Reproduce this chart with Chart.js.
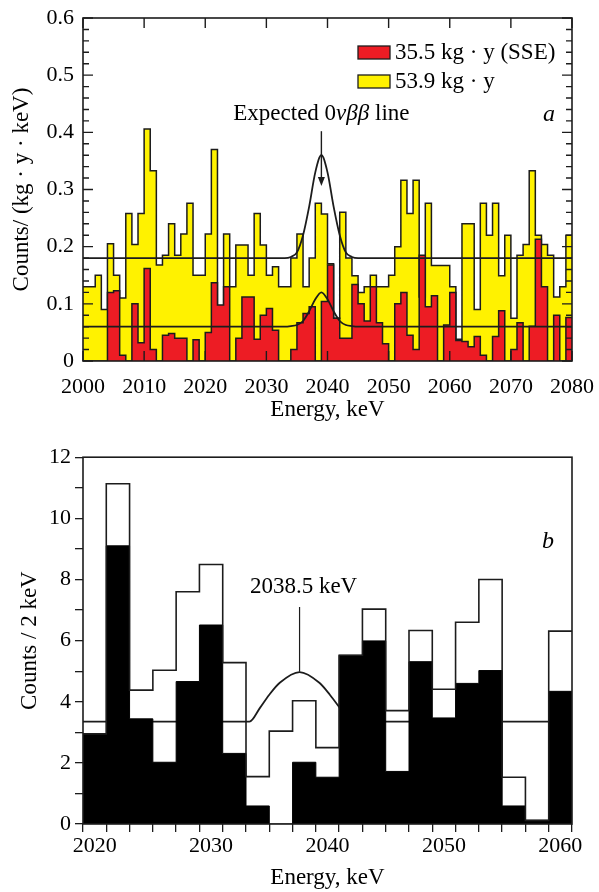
<!DOCTYPE html>
<html lang="en">
<head>
<meta charset="UTF-8" />
<title>Spectra near Qbb</title>
<script src="https://cdn.jsdelivr.net/npm/chart.js"></script>
<style>
  body { margin: 0; background: #fff; width: 599px; height: 892px; position: relative; overflow: hidden; }
  .panel { position: absolute; left: 0; }
</style>
</head>
<body>
<div class="panel" style="top:0"><canvas id="graficoA" width="599" height="440"></canvas></div>
<div class="panel" style="top:440px"><canvas id="graficoB" width="599" height="452"></canvas></div>
<script>
// ---- panel a : 1 keV bins, 2000..2080 keV
const binStartA = 2000, binWidthA = 1;
const counts539 = [
  0.13, 0.13, 0.15, 0.09, 0.205, 0.15, 0.11, 0.258, 0.204, 0.258,
  0.406, 0.333, 0.168, 0.185, 0.24, 0.185, 0.222, 0.276, 0.15, 0.15,
  0.222, 0.37, 0.095, 0.222, 0.13, 0.203, 0.203, 0.15, 0.258, 0.203,
  0.15, 0.165, 0.13, 0.13, 0.18, 0.222, 0.13, 0.18, 0.276, 0.257,
  0.17, 0.075, 0.26, 0.18, 0.149, 0.12, 0.13, 0.15, 0.13, 0.13,
  0.15, 0.2, 0.316, 0.258, 0.316, 0.112, 0.276, 0.167, 0.167, 0.167,
  0.13, 0.038, 0.24, 0.24, 0.09, 0.276, 0.22, 0.276, 0.149, 0.22,
  0.075, 0.185, 0.204, 0.333, 0.22, 0.204, 0.185, 0.112, 0.13, 0.22
];
const countsSSE = [
  0, 0, 0, 0, 0.12, 0.123, 0.01, 0, 0.10, 0.032,
  0.162, 0.02, 0, 0.045, 0.048, 0.04, 0.04, 0, 0.037, 0,
  0.05, 0.137, 0.098, 0.13, 0, 0.04, 0.112, 0.112, 0.038, 0.08,
  0.092, 0.054, 0, 0, 0.02, 0.067, 0.083, 0.095, 0, 0.104,
  0.168, 0.075, 0.04, 0.04, 0.134, 0.1, 0.07, 0.13, 0.067, 0.03,
  0, 0.1, 0.12, 0.045, 0.02, 0.185, 0.095, 0.114, 0, 0.063,
  0.12, 0.036, 0.034, 0.025, 0.043, 0.01, 0, 0.043, 0.088, 0,
  0.02, 0.067, 0, 0.061, 0.213, 0.13, 0, 0.08, 0, 0.076
];
// fitted curves
const fitEnergyA = [2000, 2033, 2034, 2035, 2036, 2037, 2038, 2039, 2040, 2041, 2042, 2043, 2044, 2045, 2080];
const fit539 = [0.18, 0.18, 0.182, 0.19, 0.22, 0.27, 0.33, 0.36, 0.33, 0.27, 0.22, 0.19, 0.182, 0.18, 0.18];
const fitSSE = [0.06, 0.06, 0.061, 0.063, 0.07, 0.087, 0.108, 0.12, 0.108, 0.087, 0.07, 0.063, 0.061, 0.06, 0.06];
const lineaEsperada = 2039;

// ---- panel b : 2 keV bins, 2019..2061 keV
const binStartB = 2019, binWidthB = 2;
const countsTotal = [2.95, 11.13, 4.38, 5.03, 7.6, 8.49, 5.28, 1.55, 3.04, 4.03, 2.5,
                     5.52, 7.03, 3.71, 6.33, 4.41, 6.6, 8.0, 1.53, 0.12, 6.31];
const countsPSD = [2.95, 9.1, 3.44, 2.02, 4.66, 6.51, 2.31, 0.59, 0, 2.02, 1.53,
                   5.52, 5.99, 1.72, 5.31, 3.47, 4.6, 5.02, 0.59, 0.12, 4.34];
const fitEnergyB = [2019, 2033.3, 2034.2, 2035, 2035.9, 2037.6, 2039.3, 2040.2, 2041.05, 2041.9, 2061];
const fitB = [3.35, 3.35, 3.8, 4.23, 4.62, 4.97, 4.62, 4.23, 3.8, 3.35, 3.35];
const marcaB = 2037.6;

const serif = 'Liberation Serif, Times New Roman, serif';
const fTick = { family: serif, size: 22 };
const fTitle = { family: serif, size: 23 };
const ink = '#1c1c1c';

function histo(start, width, values) {
  const pts = values.map((v, i) => ({ x: start + i * width, y: v }));
  pts.push({ x: start + values.length * width, y: values[values.length - 1] });
  return pts;
}
function curva(xs, ys) {
  return xs.map((x, i) => ({ x: x, y: ys[i] }));
}

// frame + inward ticks
const marco = {
  id: 'marco',
  afterDatasetsDraw(chart, args, opts) {
    const { ctx, chartArea: a, scales: { x, y } } = chart;
    ctx.save();
    ctx.strokeStyle = ink;
    ctx.lineWidth = 1.6;
    ctx.strokeRect(a.left, a.top, a.right - a.left, a.bottom - a.top);
    if (opts.inward) {
      ctx.lineWidth = 1.4;
      ctx.beginPath();
      const nx = Math.round((x.max - x.min) / opts.xStep);
      for (let i = 0; i <= nx; i++) {
        const px = x.getPixelForValue(x.min + i * opts.xStep);
        ctx.moveTo(px, a.bottom); ctx.lineTo(px, a.bottom - 10);
        ctx.moveTo(px, a.top); ctx.lineTo(px, a.top + 10);
      }
      const ny = Math.round((y.max - y.min) / opts.yStep);
      for (let i = 0; i <= ny; i++) {
        const py = y.getPixelForValue(y.min + i * opts.yStep);
        const len = i % opts.yMajorEvery === 0 ? 10 : 6;
        ctx.moveTo(a.left, py); ctx.lineTo(a.left + len, py);
        ctx.moveTo(a.right, py); ctx.lineTo(a.right - len, py);
      }
      ctx.stroke();
    }
    ctx.restore();
  }
};

// texts of panel a: legend, arrow, label
const textosA = {
  id: 'textosA',
  afterDraw(chart) {
    const { ctx, chartArea: a, scales: { x, y } } = chart;
    ctx.save();
    ctx.fillStyle = '#000';
    ctx.textBaseline = 'middle';
    // legend
    const items = [chart.data.datasets[1], chart.data.datasets[2]];
    items.forEach((ds, i) => {
      const top = a.top + 28 + i * 29;
      ctx.fillStyle = ds.backgroundColor;
      ctx.fillRect(a.left + 275, top, 32, 13);
      ctx.strokeStyle = ink; ctx.lineWidth = 1.3;
      ctx.strokeRect(a.left + 275, top, 32, 13);
      ctx.fillStyle = '#000';
      ctx.font = '23px ' + serif;
      ctx.textAlign = 'left';
      ctx.fillText(ds.label, a.left + 312, top + 7);
    });
    // expected line label
    const parts = [['Expected 0', ''], ['\u03bd\u03b2\u03b2', 'italic '], [' line', '']];
    let w = 0;
    parts.forEach(p => { ctx.font = p[1] + '23px ' + serif; w += ctx.measureText(p[0]).width; });
    let cx = x.getPixelForValue(lineaEsperada) - w / 2;
    const ty = y.getPixelForValue(0.432);
    parts.forEach(p => {
      ctx.font = p[1] + '23px ' + serif;
      ctx.textAlign = 'left';
      ctx.fillText(p[0], cx, ty);
      cx += ctx.measureText(p[0]).width;
    });
    // arrow
    const ax = x.getPixelForValue(lineaEsperada);
    const y0 = y.getPixelForValue(0.402), y1 = y.getPixelForValue(0.306);
    ctx.strokeStyle = ink; ctx.lineWidth = 1.4;
    ctx.beginPath(); ctx.moveTo(ax, y0); ctx.lineTo(ax, y1 - 6); ctx.stroke();
    ctx.beginPath(); ctx.moveTo(ax - 3.5, y1 - 9); ctx.lineTo(ax, y1); ctx.lineTo(ax + 3.5, y1 - 9); ctx.closePath();
    ctx.fillStyle = ink; ctx.fill();
    // panel letter
    ctx.fillStyle = '#000';
    ctx.font = 'italic 24px ' + serif;
    ctx.textAlign = 'center';
    ctx.fillText('a', a.right - 23, y.getPixelForValue(0.43));
    ctx.restore();
  }
};

const textosB = {
  id: 'textosB',
  afterDraw(chart) {
    const { ctx, chartArea: a, scales: { x, y } } = chart;
    ctx.save();
    const mx = x.getPixelForValue(marcaB);
    ctx.strokeStyle = ink; ctx.lineWidth = 1.2;
    ctx.beginPath(); ctx.moveTo(mx, y.getPixelForValue(7.1)); ctx.lineTo(mx, y.getPixelForValue(4.98)); ctx.stroke();
    ctx.fillStyle = '#000';
    ctx.textBaseline = 'middle';
    ctx.textAlign = 'center';
    ctx.font = '23px ' + serif;
    ctx.fillText('2038.5 keV', mx + 4, y.getPixelForValue(7.75));
    ctx.font = 'italic 24px ' + serif;
    ctx.fillText('b', a.right - 24, y.getPixelForValue(9.25));
    ctx.restore();
  }
};

const base = {
  responsive: false,
  animation: false,
  events: [],
  plugins: { legend: { display: false }, tooltip: { enabled: false } },
  elements: { point: { radius: 0 } }
};

new Chart(document.getElementById('graficoA').getContext('2d'), {
  type: 'line',
  data: {
    datasets: [
      { label: 'fit', data: curva(fitEnergyA, fit539), borderColor: ink, borderWidth: 1.8,
        cubicInterpolationMode: 'monotone', fill: false, order: 0 },
      { label: '35.5 kg \u00b7 y (SSE)', data: histo(binStartA, binWidthA, countsSSE), stepped: true,
        borderColor: ink, borderWidth: 1.5, backgroundColor: '#ed1c24', fill: 'origin', order: 2 },
      { label: '53.9 kg \u00b7 y', data: histo(binStartA, binWidthA, counts539), stepped: true,
        borderColor: ink, borderWidth: 1.5, backgroundColor: '#fff200', fill: 'origin', order: 3 },
      { label: 'fit SSE', data: curva(fitEnergyA, fitSSE), borderColor: ink, borderWidth: 1.8,
        cubicInterpolationMode: 'monotone', fill: false, order: 1 }
    ]
  },
  options: Object.assign({}, base, {
    layout: { padding: { top: 18, right: 27, left: 0, bottom: 0 } },
    scales: {
      x: {
        type: 'linear', min: 2000, max: 2080,
        afterFit: s => { s.height = 79; },
        grid: { display: false }, border: { display: false },
        ticks: { stepSize: 10, color: '#000', font: fTick, padding: 5, maxRotation: 0, callback: v => String(v) },
        title: { display: true, text: 'Energy, keV', color: '#000', font: fTitle, padding: { top: 0, bottom: 16 } }
      },
      y: {
        min: 0, max: 0.6,
        afterFit: s => { s.width = 83; },
        grid: { display: false }, border: { display: false },
        ticks: { stepSize: 0.1, color: '#000', font: fTick, padding: 1, callback: v => v === 0 ? '0' : v.toFixed(1) },
        title: { display: true, text: 'Counts/ (kg \u00b7 y \u00b7 keV)', color: '#000', font: fTitle, padding: { top: 8, bottom: 0 } }
      }
    },
    plugins: Object.assign({}, base.plugins, { marco: { inward: true, xStep: 10, yStep: 0.02, yMajorEvery: 5 } })
  }),
  plugins: [marco, textosA]
});

new Chart(document.getElementById('graficoB').getContext('2d'), {
  type: 'line',
  data: {
    datasets: [
      { label: 'all', data: histo(binStartB, binWidthB, countsTotal), stepped: true,
        borderColor: ink, borderWidth: 1.6, fill: false, order: 0 },
      { label: 'PSD', data: histo(binStartB, binWidthB, countsPSD), stepped: true,
        borderColor: '#000', borderWidth: 1, backgroundColor: '#000', fill: 'origin', order: 1 },
      { label: 'fit', data: curva(fitEnergyB, fitB), borderColor: ink, borderWidth: 1.8,
        cubicInterpolationMode: 'monotone', fill: false, order: 2 }
    ]
  },
  options: Object.assign({}, base, {
    layout: { padding: { top: 13, right: 27, left: 0, bottom: 0 } },
    scales: {
      x: {
        type: 'linear', min: 2019, max: 2061,
        afterFit: s => { s.height = 68; },
        border: { display: false },
        grid: { drawOnChartArea: false, drawTicks: true, tickLength: 8, lineWidth: 1.3,
                tickColor: c => (c.tick && (c.tick.value - 2019) % 2 === 0) ? ink : 'rgba(0,0,0,0)' },
        ticks: { stepSize: 1, autoSkip: false, color: '#000', font: fTick, padding: 1, maxRotation: 0,
                 callback: v => v % 10 === 0 ? String(v) : '' },
        title: { display: true, text: 'Energy, keV', color: '#000', font: fTitle, padding: { top: 0, bottom: 0 } }
      },
      y: {
        min: 0, max: 12,
        afterFit: s => { s.width = 83; },
        border: { display: false },
        grid: { drawOnChartArea: false, drawTicks: true, tickLength: 8, lineWidth: 1.3, tickColor: ink },
        ticks: { stepSize: 1, autoSkip: false, color: '#000', font: fTick, padding: 4,
                 callback: v => v % 2 === 0 ? String(v) : '' },
        title: { display: true, text: 'Counts / 2 keV', color: '#000', font: fTitle, padding: { top: 16, bottom: 0 } }
      }
    },
    plugins: Object.assign({}, base.plugins, { marco: { inward: false } })
  }),
  plugins: [marco, textosB]
});
</script>
</body>
</html>
